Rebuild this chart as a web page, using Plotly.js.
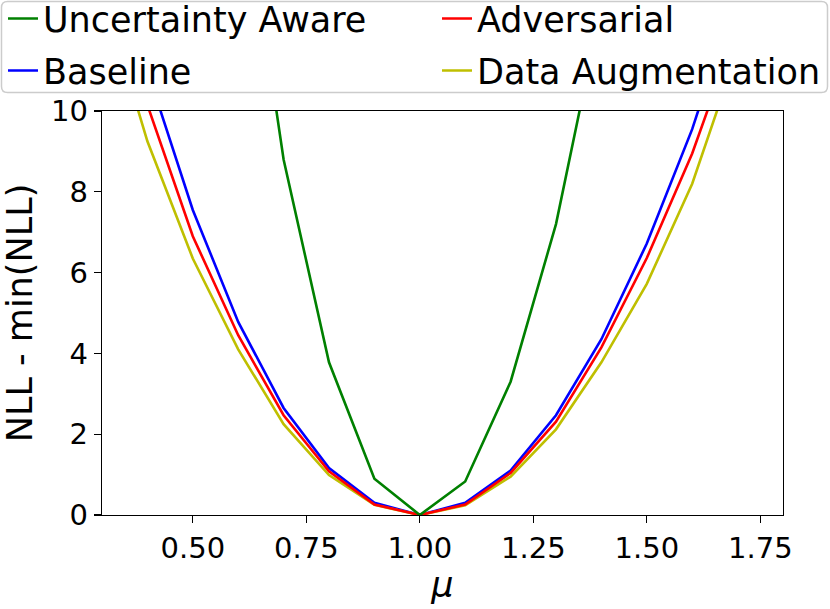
<!DOCTYPE html>
<html>
<head>
<meta charset="utf-8">
<script src="https://cdn.plot.ly/plotly-3.0.1.min.js"></script>
<style>html,body{margin:0;padding:0;background:#fff;}#chart{width:830px;height:609px;}</style>
</head>
<body>
<div id="chart"></div>
<script>
// ---- data ----
const mu = [0.3, 0.4, 0.5, 0.6, 0.7, 0.8, 0.9, 1.0, 1.1, 1.2, 1.3, 1.4, 1.5, 1.6, 1.7];
const uncertaintyAware = [null, null, null, 16.4, 8.8, 3.78, 0.9, 0.0, 0.83, 3.3, 7.2, 12.6, null, null, null];
const baseline     = [15.5, 11.0, 7.55, 4.78, 2.65, 1.16, 0.30, 0.0, 0.30, 1.10, 2.47, 4.35, 6.72, 9.55, 13.0];
const adversarial  = [14.5, 10.15, 6.9, 4.45, 2.47, 1.08, 0.26, 0.0, 0.26, 1.04, 2.31, 4.15, 6.36, 8.95, 12.1];
const dataAugment  = [13.0, 9.25, 6.35, 4.10, 2.25, 0.99, 0.25, 0.0, 0.24, 0.95, 2.12, 3.78, 5.72, 8.2, 11.5];
const xTickVals = [0.5, 0.75, 1.0, 1.25, 1.5, 1.75];
const xTickText = ["0.50", "0.75", "1.00", "1.25", "1.50", "1.75"];
const yTickVals = [0, 2, 4, 6, 8, 10];

// ---- geometry helpers ----
const W = 830, H = 609;
const L = 102, R = 783, T = 111, B = 515;
const px2x = p => (p - L) / (R - L);
const py2y = p => (B - p) / (B - T);

const FONT = "DejaVu Sans, Verdana, sans-serif";
const LW = 2.6;

function tr(name, y, color, legend, rank) {
  return {
    type: 'scatter', mode: 'lines', x: mu, y: y, name: name,
    line: {color: color, width: LW}, connectgaps: false,
    legend: legend, legendrank: rank, legendgroup: name
  };
}

const traces = [
  tr('Baseline', baseline, '#0000ff', 'legend', 2),
  tr('Data Augmentation', dataAugment, '#bfbf00', 'legend2', 2),
  tr('Adversarial', adversarial, '#ff0000', 'legend2', 1),
  tr('Uncertainty Aware', uncertaintyAware, '#008000', 'legend', 1)
];

// rounded legend frame
const bx0 = 1.5, bx1 = 827.5, by0 = 1.5, by1 = 92.5, rr = 6;
const pathPts = [
  ['M', bx0 + rr, by0], ['L', bx1 - rr, by0], ['Q', bx1, by0, bx1, by0 + rr],
  ['L', bx1, by1 - rr], ['Q', bx1, by1, bx1 - rr, by1], ['L', bx0 + rr, by1],
  ['Q', bx0, by1, bx0, by1 - rr], ['L', bx0, by0 + rr], ['Q', bx0, by0, bx0 + rr, by0]
];
const pathStr = pathPts.map(p => {
  const c = p[0]; const nums = p.slice(1);
  const out = [];
  for (let i = 0; i < nums.length; i += 2) out.push(px2x(nums[i]).toFixed(5) + ',' + py2y(nums[i + 1]).toFixed(5));
  return c + out.join(' ');
}).join(' ') + ' Z';

const legendCommon = {
  orientation: 'v', xanchor: 'left', yanchor: 'top',
  y: py2y(-10.75), bgcolor: 'rgba(0,0,0,0)', borderwidth: 0,
  font: {family: FONT, size: 35, color: '#000'},
  tracegroupgap: 3.5, itemclick: false
};

const layout = {
  width: W, height: H,
  margin: {l: L, r: W - R, t: T, b: H - B, pad: 0, autoexpand: false},
  paper_bgcolor: '#fff', plot_bgcolor: '#fff',
  showlegend: true,
  legend: Object.assign({}, legendCommon, {x: px2x(3)}),
  legend2: Object.assign({}, legendCommon, {x: px2x(437)}),
  font: {family: FONT, color: '#000'},
  xaxis: {
    range: [0.3, 1.8], tickvals: xTickVals, ticktext: xTickText,
    showgrid: false, zeroline: false,
    showline: true, linecolor: '#000', linewidth: 1.3, mirror: true,
    ticks: 'outside', ticklen: 7, tickwidth: 1.3, tickcolor: '#000',
    tickfont: {family: FONT, size: 29, color: '#000'},
    title: {text: '<i>μ</i>', font: {family: FONT, size: 35, color: '#000'}, standoff: 8},
    automargin: false
  },
  yaxis: {
    range: [0, 10], tickvals: yTickVals,
    showgrid: false, zeroline: false,
    showline: true, linecolor: '#000', linewidth: 1.3, mirror: true,
    ticks: 'outside', ticklen: 7, tickwidth: 1.3, tickcolor: '#000',
    tickfont: {family: FONT, size: 29, color: '#000'},
    title: {text: 'NLL - min(NLL)', font: {family: FONT, size: 35, color: '#000'}, standoff: 12},
    automargin: false
  },
  shapes: [{
    type: 'path', xref: 'paper', yref: 'paper', path: pathStr,
    line: {color: '#cccccc', width: 1.5}, fillcolor: 'rgba(255,255,255,0.8)', layer: 'below'
  }]
};

Plotly.newPlot('chart', traces, layout, {displayModeBar: false, staticPlot: true});
</script>
</body>
</html>
